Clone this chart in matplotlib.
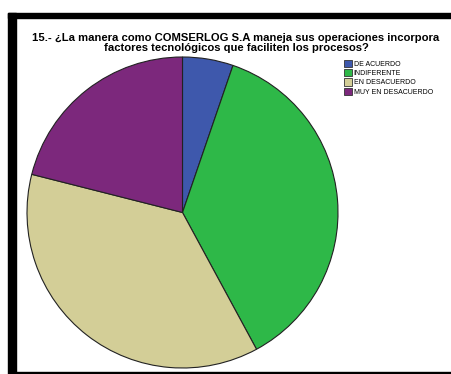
import matplotlib.pyplot as plt
from matplotlib.patches import Rectangle, Patch

# respuestas de la pregunta 15
categorias = ["DE ACUERDO", "INDIFERENTE", "EN DESACUERDO", "MUY EN DESACUERDO"]
frecuencias = [1, 7, 7, 4]
colores = ["#3e58ac", "#2eb848", "#d3ce97", "#7c287c"]

titulo = ("15.- ¿La manera como COMSERLOG S.A maneja sus operaciones incorpora\n"
          "factores tecnológicos que faciliten los procesos?")

W, H = 451, 374
fig = plt.figure(figsize=(W / 100, H / 100), dpi=100)
plt.rcParams["font.family"] = ["Liberation Sans", "DejaVu Sans"]

# marco negro (izquierda, arriba, abajo)
fig.patches.append(Rectangle((8 / W, 0), 8 / W, (H - 13) / H, transform=fig.transFigure,
                             color="black", zorder=0))
fig.patches.append(Rectangle((8 / W, 1 - 18 / H), 1, 5 / H, transform=fig.transFigure,
                             color="black", zorder=0))
fig.patches.append(Rectangle((16 / W, 1 / H), 1, 1.5 / H, transform=fig.transFigure,
                             color="black", zorder=0))

# pastel
cx, cy, r = 182.5, 212.5, 155.5
ax = fig.add_axes([(cx - r) / W, (H - cy - r) / H, 2 * r / W, 2 * r / H])
ax.pie(frecuencias, colors=colores, startangle=90, counterclock=False, radius=1,
       wedgeprops=dict(edgecolor="#222222", linewidth=0.8))
ax.set_xlim(-1, 1)
ax.set_ylim(-1, 1)
ax.set_aspect("auto")
ax.axis("off")

fig.text(236 / W, 1 - 43 / H, titulo, ha="center", va="center", fontsize=8.1,
         fontweight="bold", linespacing=0.95)

handles = [Patch(facecolor=c, edgecolor="#333333", linewidth=0.6) for c in colores]
fig.legend(handles, categorias, loc="upper left", bbox_to_anchor=(339 / W, 1 - 55 / H),
           fontsize=5, frameon=False, handlelength=1.2, handleheight=1.2,
           handletextpad=0.2, labelspacing=0.2, borderpad=0.2)

plt.savefig("out.png", dpi=100)
